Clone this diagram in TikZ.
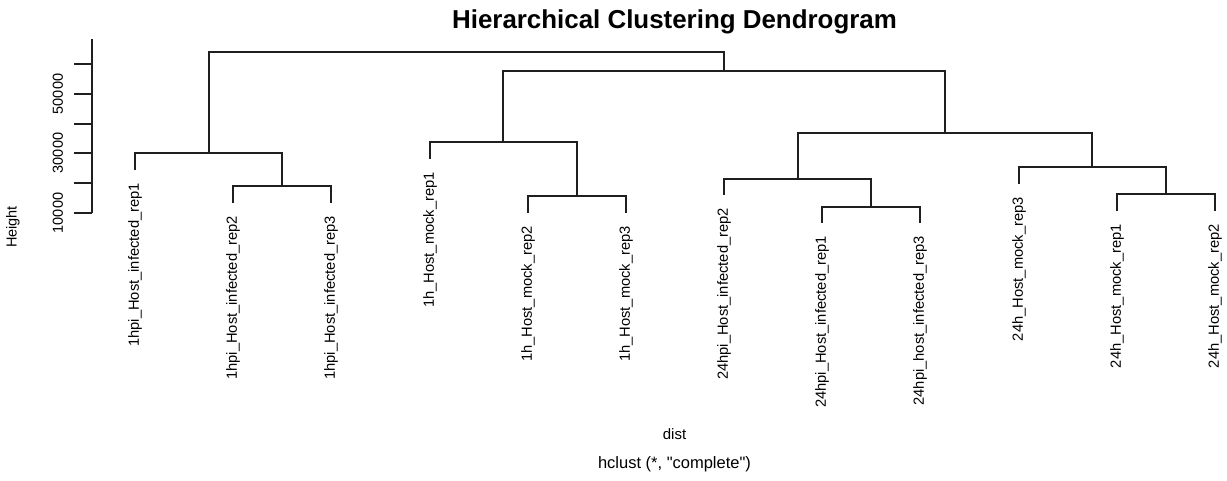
\documentclass[tikz,border=0pt]{standalone}
\usepackage{fontspec}
\setmainfont{Liberation Sans}
\newfontfamily\plainsans[Ligatures=ResetAll]{Liberation Sans}
\begin{document}
\begin{tikzpicture}[x=1pt,y=-1pt,
  link/.style={line width=2pt,draw=black!88,line cap=rect},
  leaflabel/.style={rotate=90,anchor=east,inner sep=0pt,font=\fontsize{14.7}{17}\selectfont},
  ticklabel/.style={rotate=90,anchor=center,inner sep=0pt,font=\fontsize{14.5}{17}\selectfont},
  axisline/.style={line width=2pt,draw=black!88}]
\useasboundingbox (0,0) rectangle (1227,481);
% title and captions
\node[anchor=base,inner sep=0pt,font=\fontsize{25.9}{30}\selectfont\bfseries] (title) at (674.5,28.5) {Hierarchical Clustering Dendrogram};
\node[inner sep=0pt,font=\fontsize{15}{18}\selectfont] (dist) at (674.5,434) {dist};
\node[inner sep=0pt,font=\plainsans\fontsize{16.5}{20}\selectfont] (sub) at (674.5,464) {hclust (*, "complete")};
% axis
\coordinate (axtop) at (92,39);
\coordinate (axbot) at (92,213);
\draw[axisline] (axtop) -- (axbot);
\foreach \v/\y in {1/213,2/183,3/153,4/124,5/94,6/64}{
  \coordinate (t\v) at (92,\y);
  \coordinate (tl\v) at (74,\y);
  \draw[axisline] (t\v) -- (tl\v);
}
\node[ticklabel] (lab1) at (58,213) {10000};
\node[ticklabel] (lab3) at (58,153) {30000};
\node[ticklabel] (lab5) at (58,94) {50000};
\node[ticklabel] (ylab) at (13,227) {Height};
% leaves
\coordinate (l1) at (135,169);
\coordinate (l2) at (233,202);
\coordinate (l3) at (331,202);
\coordinate (l4) at (430,158);
\coordinate (l5) at (528,212);
\coordinate (l6) at (626,212);
\coordinate (l7) at (724,194);
\coordinate (l8) at (822,222);
\coordinate (l9) at (920,222);
\coordinate (l10) at (1019,183);
\coordinate (l11) at (1117,210);
\coordinate (l12) at (1215,210);
\foreach \i/\t in {1/1hpi\_Host\_infected\_rep1,2/1hpi\_Host\_infected\_rep2,3/1hpi\_Host\_infected\_rep3,
  4/1h\_Host\_mock\_rep1,5/1h\_Host\_mock\_rep2,6/1h\_Host\_mock\_rep3,
  7/24hpi\_Host\_infected\_rep2,8/24hpi\_Host\_infected\_rep1,9/24hpi\_host\_infected\_rep3,
  10/24h\_Host\_mock\_rep3,11/24h\_Host\_mock\_rep1,12/24h\_Host\_mock\_rep2}{
  \node[leaflabel] (n\i) at ([yshift=-14pt]l\i) {\t};
}
% merges
\coordinate (mA) at (282,186);
\coordinate (mB) at (209,153);
\coordinate (mC) at (577,196);
\coordinate (mD) at (503,142);
\coordinate (mE) at (871,207);
\coordinate (mF) at (798,179);
\coordinate (mG) at (1166,194);
\coordinate (mH) at (1092,167);
\coordinate (mI) at (945,133);
\coordinate (mJ) at (724,71);
\coordinate (mK) at (466,52);
\draw[link] (l2) |- (mA) -| (l3);
\draw[link] (l1) |- (mB) -| (mA);
\draw[link] (l5) |- (mC) -| (l6);
\draw[link] (l4) |- (mD) -| (mC);
\draw[link] (l8) |- (mE) -| (l9);
\draw[link] (l7) |- (mF) -| (mE);
\draw[link] (l11) |- (mG) -| (l12);
\draw[link] (l10) |- (mH) -| (mG);
\draw[link] (mF) |- (mI) -| (mH);
\draw[link] (mD) |- (mJ) -| (mI);
\draw[link] (mB) |- (mK) -| (mJ);
\end{tikzpicture}
\end{document}
